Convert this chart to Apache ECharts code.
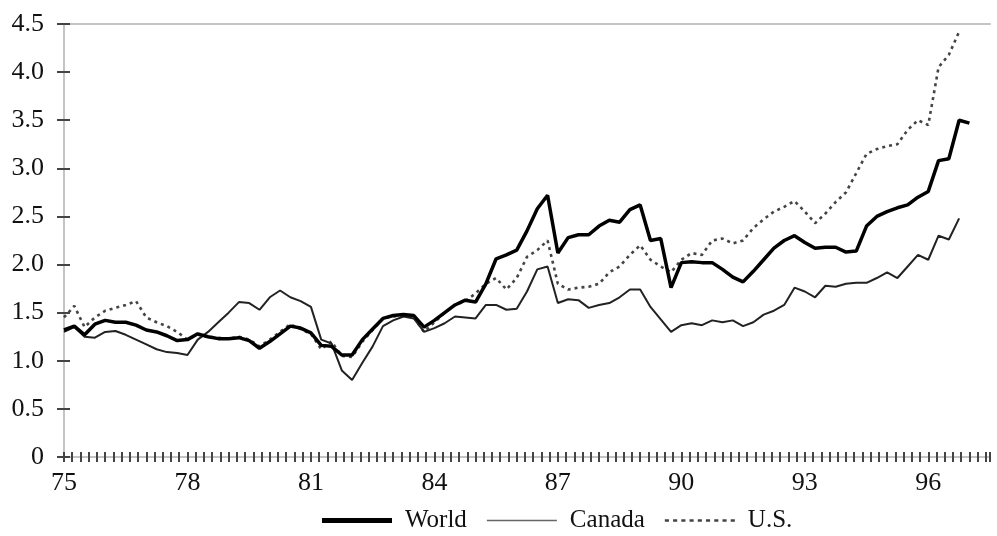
<!DOCTYPE html>
<html>
<head>
<meta charset="utf-8">
<script src="https://cdn.jsdelivr.net/npm/echarts@6/dist/echarts.min.js"></script>
<style>
  html, body { margin: 0; padding: 0; background: #fff; }
  #chart { width: 997px; height: 536px; }
</style>
</head>
<body>
<div id="chart"></div>
<script>
// quarterly, starting 1975 Q1
const yearLabels = ['75', '78', '81', '84', '87', '90', '93', '96'];

const world = [
  1.32, 1.36, 1.27, 1.38, 1.42, 1.40, 1.40, 1.37, 1.32, 1.30, 1.26, 1.21,
  1.22, 1.28, 1.25, 1.23, 1.23, 1.24, 1.21, 1.13, 1.20, 1.28, 1.36, 1.34,
  1.29, 1.16, 1.15, 1.06, 1.06, 1.22, 1.33, 1.44, 1.47, 1.48, 1.47, 1.35,
  1.42, 1.50, 1.58, 1.63, 1.61, 1.80, 2.06, 2.10, 2.15, 2.35, 2.58, 2.72,
  2.12, 2.28, 2.31, 2.31, 2.40, 2.46, 2.44, 2.57, 2.62, 2.25, 2.27, 1.76,
  2.02, 2.03, 2.02, 2.02, 1.95, 1.87, 1.82, 1.93, 2.05, 2.17, 2.25, 2.30,
  2.23, 2.17, 2.18, 2.18, 2.13, 2.14, 2.40, 2.50, 2.55, 2.59, 2.62, 2.70,
  2.76, 3.08, 3.10, 3.50, 3.47
];

const canada = [
  1.30, 1.35, 1.25, 1.24, 1.30, 1.31, 1.27, 1.22, 1.17, 1.12, 1.09, 1.08,
  1.06, 1.22, 1.30, 1.40, 1.50, 1.61, 1.60, 1.53, 1.66, 1.73, 1.66, 1.62,
  1.56, 1.22, 1.18, 0.90, 0.80, 0.98, 1.15, 1.36, 1.42, 1.46, 1.44, 1.30,
  1.34, 1.39, 1.46, 1.45, 1.44, 1.58, 1.58, 1.53, 1.54, 1.72, 1.95, 1.98,
  1.60, 1.64, 1.63, 1.55, 1.58, 1.60, 1.66, 1.74, 1.74, 1.56, 1.43, 1.30,
  1.37, 1.39, 1.37, 1.42, 1.40, 1.42, 1.36, 1.40, 1.48, 1.52, 1.58, 1.76,
  1.72, 1.66, 1.78, 1.77, 1.80, 1.81, 1.81, 1.86, 1.92, 1.86, 1.98, 2.10,
  2.05, 2.30, 2.26, 2.48
];

const us = [
  1.45, 1.57, 1.35, 1.45, 1.52, 1.55, 1.58, 1.62, 1.45, 1.40, 1.36, 1.30,
  1.22, 1.27, 1.25, 1.24, 1.23, 1.25, 1.22, 1.15, 1.22, 1.30, 1.38, 1.33,
  1.28, 1.12, 1.20, 1.05, 1.04, 1.20, 1.32, 1.44, 1.46, 1.47, 1.45, 1.30,
  1.40, 1.50, 1.58, 1.62, 1.70, 1.80, 1.86, 1.74, 1.86, 2.08, 2.15, 2.25,
  1.80, 1.74, 1.76, 1.77, 1.80, 1.92, 1.98, 2.10, 2.20, 2.05, 1.98, 1.92,
  2.05, 2.12, 2.10, 2.25, 2.27, 2.22, 2.25, 2.38, 2.47, 2.55, 2.60, 2.66,
  2.55, 2.43, 2.53, 2.65, 2.75, 2.95, 3.15, 3.20, 3.23, 3.25, 3.40, 3.50,
  3.45, 4.05, 4.18, 4.42
];

const toPairs = arr => arr.map((v, i) => [i, v]);

const chart = echarts.init(document.getElementById('chart'));

const font = 'Liberation Serif';
const axisGray = '#c4c4c4';
const tickDark = '#444';

// x axis helper, quarters from 0 to 90
function quarterAxis(extra) {
  return Object.assign({
    type: 'value',
    min: 0,
    max: 90,
    interval: 12,
    position: 'bottom',
    splitLine: { show: false }
  }, extra);
}

const option = {
  animation: false,
  backgroundColor: '#fff',
  textStyle: { fontFamily: font },
  grid: { left: 64, right: 7, top: 24, bottom: 79 },
  legend: {
    bottom: 3,
    left: 322,
    padding: 0,
    itemWidth: 70,
    itemHeight: 14,
    itemGap: 20,
    textStyle: { fontFamily: font, fontSize: 25, color: '#111', padding: [0, 0, 0, 8] },
    data: [
      { name: 'World', icon: 'path://M0,4.5 L70,4.5 L70,9.5 L0,9.5 Z', itemStyle: { color: '#000' } },
      { name: 'Canada', icon: 'path://M0,6.2 L70,6.2 L70,7.8 L0,7.8 Z', itemStyle: { color: '#666' } },
      { name: 'U.S.', icon: 'path://M2,5.8 L6,5.8 L6,8.4 L2,8.4 Z M10,5.8 L14,5.8 L14,8.4 L10,8.4 Z M18,5.8 L22,5.8 L22,8.4 L18,8.4 Z M26,5.8 L30,5.8 L30,8.4 L26,8.4 Z M34,5.8 L38,5.8 L38,8.4 L34,8.4 Z M42,5.8 L46,5.8 L46,8.4 L42,8.4 Z M50,5.8 L54,5.8 L54,8.4 L50,8.4 Z M58,5.8 L62,5.8 L62,8.4 L58,8.4 Z M66,5.8 L70,5.8 L70,8.4 L66,8.4 Z', itemStyle: { color: '#444' } }
    ]
  },
  xAxis: [
    quarterAxis({
      axisLine: { show: true, onZero: false, lineStyle: { color: axisGray, width: 2 } },
      axisTick: { show: true, length: 5, lineStyle: { color: tickDark, width: 2 } },
      minorTick: { show: true, splitNumber: 15, length: 5, lineStyle: { color: tickDark, width: 2 } },
      axisLabel: {
        fontFamily: font,
        fontSize: 26,
        color: '#111',
        margin: 13,
        formatter: v => (v % 12 === 0 && yearLabels[v / 12]) ? yearLabels[v / 12] : ''
      }
    }),
    quarterAxis({
      axisLine: { show: false, onZero: false },
      axisTick: { show: true, inside: true, length: 5, lineStyle: { color: tickDark, width: 2 } },
      minorTick: { show: true, splitNumber: 15, length: 5, lineStyle: { color: tickDark, width: 2 } },
      axisLabel: { show: false }
    }),
    quarterAxis({
      position: 'top',
      axisLine: { show: true, onZero: false, lineStyle: { color: axisGray, width: 2 } },
      axisTick: { show: false },
      axisLabel: { show: false }
    })
  ],
  yAxis: [
    {
      type: 'value',
      min: 0,
      max: 4.5,
      interval: 0.5,
      position: 'left',
      axisLine: { show: true, lineStyle: { color: axisGray, width: 2 } },
      axisTick: { show: true, length: 7, lineStyle: { color: tickDark, width: 2 } },
      splitLine: { show: false },
      axisLabel: {
        fontFamily: font,
        fontSize: 26,
        color: '#111',
        margin: 20,
        formatter: v => v === 0 ? '0' : v.toFixed(1)
      }
    },
    {
      type: 'value',
      min: 0,
      max: 4.5,
      interval: 0.5,
      position: 'left',
      axisLine: { show: false },
      axisTick: { show: true, inside: true, length: 6, lineStyle: { color: tickDark, width: 2 } },
      splitLine: { show: false },
      axisLabel: { show: false }
    }
  ],
  series: [
    {
      name: 'World',
      type: 'line',
      xAxisIndex: 0,
      data: toPairs(world),
      showSymbol: false,
      symbol: 'none',
      lineStyle: { color: '#000', width: 3.5 },
      itemStyle: { color: '#000' },
      z: 4
    },
    {
      name: 'Canada',
      type: 'line',
      xAxisIndex: 0,
      data: toPairs(canada),
      showSymbol: false,
      symbol: 'none',
      lineStyle: { color: '#222', width: 2 },
      itemStyle: { color: '#666' },
      z: 3
    },
    {
      name: 'U.S.',
      type: 'line',
      xAxisIndex: 0,
      data: toPairs(us),
      showSymbol: false,
      symbol: 'none',
      lineStyle: { color: '#444', width: 2.6, type: [3, 4] },
      itemStyle: { color: '#444' },
      z: 2
    }
  ]
};

chart.setOption(option);
</script>
</body>
</html>
